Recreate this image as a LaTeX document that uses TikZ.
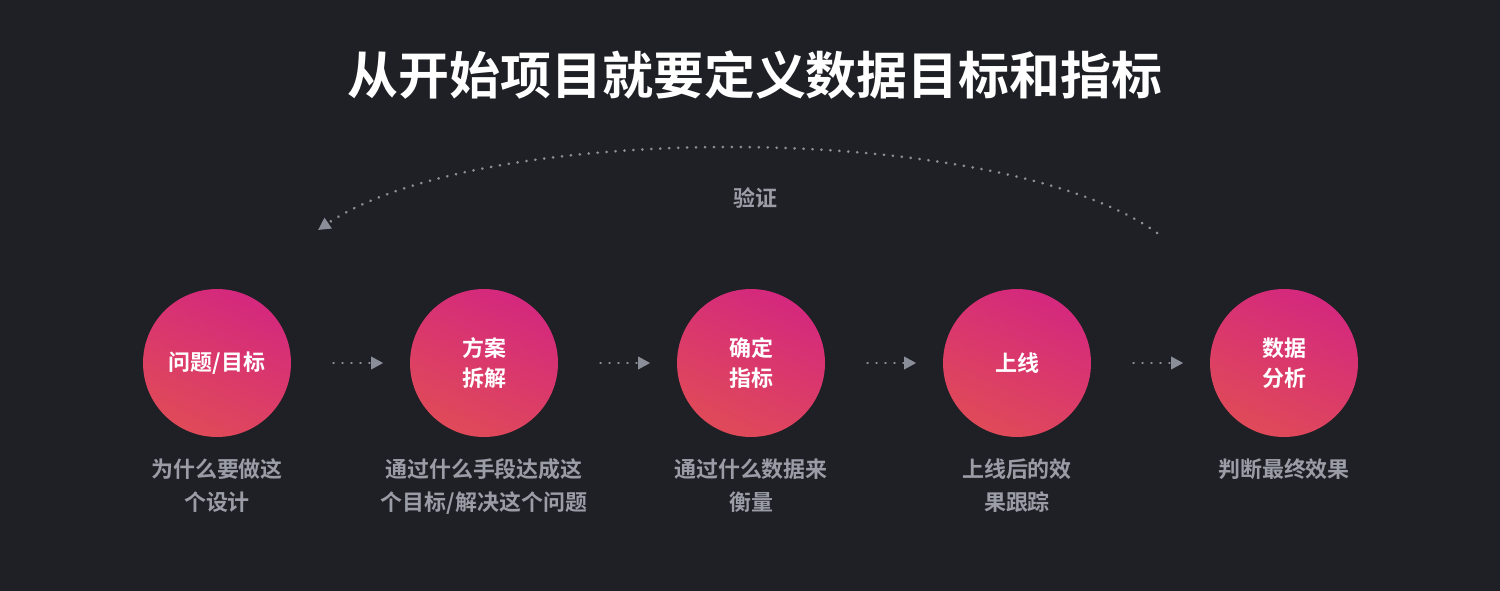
\documentclass[tikz,border=0pt]{standalone}
\usepackage{fontspec}
\setmainfont{Noto Sans CJK SC}[BoldFont={Noto Sans CJK SC Bold}]
\usepackage{xcolor}
\usetikzlibrary{positioning}
\usetikzlibrary{arrows.meta}
\definecolor{bgdark}{HTML}{1F2025}
\definecolor{capgray}{HTML}{9A9DA6}
\definecolor{dotgray}{HTML}{8A8E99}
\definecolor{stepmag}{HTML}{D4287E}
\definecolor{stepred}{HTML}{E04A58}

\begin{document}
\begin{tikzpicture}[x=0.02cm,y=-0.02cm,node distance=1cm,
      stepcircle/.style={circle, minimum size=2.96cm, inner sep=0pt, align=center,
        top color=stepmag, bottom color=stepred, shading angle=-25,
        text=white, font=\bfseries\fontsize{12.5}{17}\selectfont},
      caption/.style={align=center, text=capgray, font=\bfseries\fontsize{12.5}{19}\selectfont},
      flow/.style={dotgray, line width=1.6pt, dash pattern=on 0.1pt off 5pt, line cap=round,
        -{Triangle[length=7pt,width=7pt,line cap=butt]}, shorten <=2pt}]

      \fill[bgdark] (0,0) rectangle (1500,591);
      \useasboundingbox (0,0) rectangle (1500,591);

      \node[text=white, font=\bfseries\fontsize{29}{33}\selectfont] (title) at (755,75) {从开始项目就要定义数据目标和指标};

      \node[stepcircle] (s0) at (217,363) {问题/目标};
      \node[stepcircle] (s1) at (484,363) {方案\\拆解};
      \node[stepcircle] (s2) at (751,363) {确定\\指标};
      \node[stepcircle] (s3) at (1017,363) {上线};
      \node[stepcircle] (s4) at (1284,363) {数据\\分析};

      \node[caption] (c0) [below=0.3cm of s0] {为什么要做这\\个设计};
      \node[caption] (c1) [below=0.3cm of s1] {通过什么手段达成这\\个目标/解决这个问题};
      \node[caption] (c2) [below=0.3cm of s2] {通过什么数据来\\衡量};
      \node[caption] (c3) [below=0.3cm of s3] {上线后的效\\果跟踪};
      \node[caption] (c4) [below=0.3cm of s4] {判断最终效果};

      \foreach \a/\b in {s0/s1, s1/s2, s2/s3, s3/s4}
        \draw[flow, shorten <=24pt, shorten >=15pt] (\a) -- (\b);

      \coordinate (vstart) at (1160,235);
      \coordinate (vend) at (318,230);
      \draw[flow] (vstart) .. controls (1000,120) and (480,120) .. (vend);
      \node[caption] (verify) at (755,198) {验证};

    \end{tikzpicture}
\end{document}
